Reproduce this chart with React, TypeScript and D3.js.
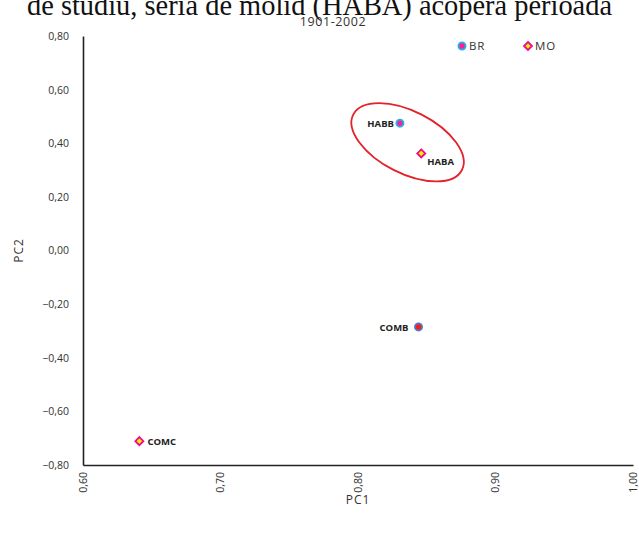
import React, { useEffect, useRef } from 'react';
import * as d3 from 'd3';

// point data
const names = ['HABB', 'HABA', 'COMB', 'COMC'];
const pc1 = [0.8305, 0.846, 0.844, 0.641];
const pc2 = [0.475, 0.362, -0.285, -0.711];
const groups = ['BR', 'MO', 'BR2', 'MO'];
const xTicks = [0.6, 0.7, 0.8, 0.9, 1.0];
const yTicks = [0.8, 0.6, 0.4, 0.2, 0.0, -0.2, -0.4, -0.6, -0.8];
const legendItems = ['BR', 'MO'];

const W = 639;
const H = 534;

function App() {
  const svgRef = useRef<SVGSVGElement>(null);

  useEffect(() => {
    const svg = d3.select(svgRef.current);
    svg.selectAll('*').remove();

    const margin = { top: 36, right: 6, bottom: 69, left: 83 };
    const x = d3.scaleLinear().domain([0.6, 1.0]).range([margin.left, W - margin.right]);
    const y = d3.scaleLinear().domain([-0.8, 0.8]).range([H - margin.bottom, margin.top]);
    const fmt = (v: number) => d3.format('.2f')(v).replace('.', ',');
    const sans = "'Open Sans', 'Noto Sans', sans-serif";

    // cropped paragraph text above the chart
    svg.append('text')
      .attr('x', 27)
      .attr('y', 15)
      .attr('font-family', "'Liberation Serif', 'DejaVu Serif', serif")
      .attr('font-size', 30)
      .attr('fill', '#111')
      .attr('textLength', 585)
      .attr('lengthAdjust', 'spacingAndGlyphs')
      .text('de studiu, seria de molid (HABA) acoperă perioada');

    svg.append('text')
      .attr('x', 333)
      .attr('y', 26)
      .attr('text-anchor', 'middle')
      .attr('font-family', sans)
      .attr('font-size', 12.5)
      .attr('letter-spacing', 0.6)
      .attr('fill', '#333')
      .text('1901-2002');

    // axes
    const xAxis = svg.append('g')
      .attr('transform', `translate(0,${H - margin.bottom})`)
      .call(d3.axisBottom(x).tickValues(xTicks).tickSize(0).tickFormat(d => fmt(+d)));
    xAxis.select('.domain').attr('stroke', '#222').attr('stroke-width', 1.6);
    xAxis.selectAll('text')
      .attr('font-family', sans)
      .attr('font-size', 10.5)
      .attr('fill', '#333')
      .attr('text-anchor', 'end')
      .attr('transform', 'rotate(-90)')
      .attr('x', -7)
      .attr('y', 0)
      .attr('dy', '0.32em');

    const yAxis = svg.append('g')
      .attr('transform', `translate(${margin.left},0)`)
      .call(d3.axisLeft(y).tickValues(yTicks).tickSize(0).tickPadding(14).tickFormat(d => fmt(+d)));
    yAxis.select('.domain').attr('stroke', '#222').attr('stroke-width', 1.6);
    yAxis.selectAll('text')
      .attr('font-family', sans)
      .attr('font-size', 10.5)
      .attr('fill', '#333');

    svg.append('text')
      .attr('x', 358)
      .attr('y', 504)
      .attr('text-anchor', 'middle')
      .attr('font-family', sans)
      .attr('font-size', 12)
      .attr('letter-spacing', 1)
      .attr('fill', '#333')
      .text('PC1');

    svg.append('text')
      .attr('transform', `translate(23,${(margin.top + H - margin.bottom) / 2}) rotate(-90)`)
      .attr('text-anchor', 'middle')
      .attr('font-family', sans)
      .attr('font-size', 12)
      .attr('letter-spacing', 1)
      .attr('fill', '#333')
      .text('PC2');

    // marker drawing by group
    const drawMarker = (g: d3.Selection<SVGGElement, unknown, null, undefined>, grp: string) => {
      if (grp === 'BR') {
        g.append('circle').attr('r', 3.6).attr('fill', '#ff1f8e').attr('stroke', '#1fb4ee').attr('stroke-width', 1.8);
      } else if (grp === 'BR2') {
        g.append('circle').attr('r', 3.6).attr('fill', '#ff1a1a').attr('stroke', '#4a7cc8').attr('stroke-width', 1.8);
      } else {
        g.append('path').attr('d', 'M0,-4 L4,0 L0,4 L-4,0 Z')
          .attr('fill', '#fff200').attr('stroke', '#ee0a8c').attr('stroke-width', 1.8);
      }
    };

    // ellipse annotation around the HA series
    const cx = x((pc1[0] + pc1[1]) / 2) - 3;
    const cy = y((pc2[0] + pc2[1]) / 2) + 4;
    svg.append('ellipse')
      .attr('transform', `translate(${cx},${cy}) rotate(27)`)
      .attr('rx', 61)
      .attr('ry', 31)
      .attr('fill', 'none')
      .attr('stroke', '#e3222b')
      .attr('stroke-width', 1.8);

    // labels offsets relative to point
    const labelPos: Record<string, [number, number, string]> = {
      HABB: [-6, 4, 'end'],
      HABA: [6, 12, 'start'],
      COMB: [-10, 4, 'end'],
      COMC: [8, 4, 'start'],
    };

    names.forEach((n, i) => {
      const px = x(pc1[i]);
      const py = y(pc2[i]);
      const g = svg.append('g').attr('transform', `translate(${px},${py})`);
      drawMarker(g, groups[i]);
      const [dx, dy, anchor] = labelPos[n];
      svg.append('text')
        .attr('x', px + dx)
        .attr('y', py + dy)
        .attr('text-anchor', anchor)
        .attr('font-family', sans)
        .attr('font-size', 9.5)
        .attr('font-weight', 700)
        .attr('fill', '#222')
        .text(n);
    });

    // legend
    const legendX = d3.scalePoint().domain(legendItems).range([462, 528]);
    legendItems.forEach(item => {
      const lx = legendX(item) as number;
      const g = svg.append('g').attr('transform', `translate(${lx},46)`);
      drawMarker(g, item);
      svg.append('text')
        .attr('x', lx + 7)
        .attr('y', 50)
        .attr('font-family', sans)
        .attr('font-size', 11.5)
        .attr('letter-spacing', 0.8)
        .attr('fill', '#333')
        .text(item);
    });
  }, []);

  return (
    <svg
      ref={svgRef}
      width={W}
      height={H}
      style={{ position: 'absolute', left: 0, top: 0, background: '#fff' }}
    />
  );
}

export default App;
